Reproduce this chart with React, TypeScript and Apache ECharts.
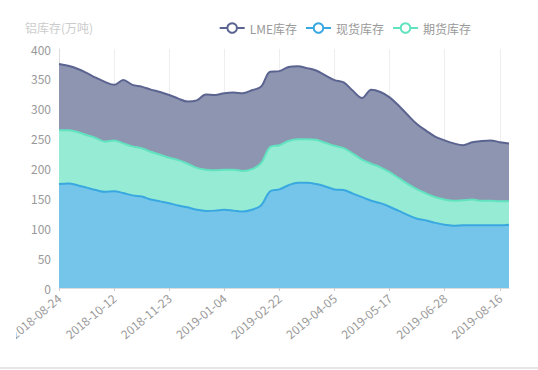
import React, { useEffect, useRef } from "react";
import * as echarts from "echarts";

const dates: string[] = [
  "2018-08-24", "2018-08-31", "2018-09-07", "2018-09-14", "2018-09-21", "2018-09-28",
  "2018-10-12", "2018-10-19", "2018-10-26", "2018-11-02", "2018-11-09", "2018-11-16",
  "2018-11-23", "2018-11-30", "2018-12-07", "2018-12-14", "2018-12-21", "2018-12-28",
  "2019-01-04", "2019-01-11", "2019-01-18", "2019-01-25", "2019-02-01", "2019-02-15",
  "2019-02-22", "2019-03-01", "2019-03-08", "2019-03-15", "2019-03-22", "2019-03-29",
  "2019-04-05", "2019-04-12", "2019-04-19", "2019-04-26", "2019-05-03", "2019-05-10",
  "2019-05-17", "2019-05-24", "2019-05-31", "2019-06-07", "2019-06-14", "2019-06-21",
  "2019-06-28", "2019-07-12", "2019-07-19", "2019-07-26", "2019-08-02", "2019-08-09",
  "2019-08-16", "2019-08-23",
];

// 现货库存 (bottom of stack)
const spotStock: number[] = [
  174, 175, 172, 168, 164, 161, 162, 159, 155, 153, 148, 145, 142, 138, 135, 131, 129,
  129.5, 131, 129.5, 128, 131, 138, 162, 165, 172, 176, 176, 174, 170, 165, 164, 158,
  152, 146, 142, 136, 129, 122, 116, 113, 109, 106, 104, 105, 105, 105, 105, 105, 106,
];

// 期货库存 (middle of stack)
const futuresStock: number[] = [
  90, 89, 89, 88, 87, 84, 85, 83, 82, 81, 80, 78, 76, 76, 73, 70, 69, 67.5, 67, 68.5,
  68, 68, 71, 74, 74, 74, 73, 73, 74, 73, 73, 70, 67, 63, 62, 60, 58, 55, 52, 49, 45,
  43, 42, 42, 42, 43, 41, 41, 40, 39,
];

// LME库存 (top of stack)
const lmeStock: number[] = [
  111, 108, 106, 104, 101, 100, 93, 106, 103, 103, 104, 105, 105, 103, 104, 113, 126,
  126, 128, 129, 130, 132, 128, 126, 124, 124, 122, 119, 116, 113, 110, 110, 105, 103,
  124, 126, 125, 121, 115, 109, 105, 101, 99, 96, 92, 96, 100, 101, 99, 97,
];

const legendNames: string[] = ["LME库存", "现货库存", "期货库存"];
const yAxisName = "铝库存(万吨)";

const FONT = "'Noto Sans CJK SC', 'Noto Sans', sans-serif";

export default function App() {
  const ref = useRef<HTMLDivElement>(null);

  useEffect(() => {
    if (!ref.current) return;
    const chart = echarts.init(ref.current, undefined, { renderer: "svg" });
    const mk = (name: string, data: number[], line: string, fill: string) => ({
      name,
      type: "line",
      stack: "total",
      data,
      smooth: 0.35,
      symbol: "emptyCircle",
      symbolSize: 8,
      showSymbol: false,
      lineStyle: { color: line, width: 2 },
      itemStyle: { color: line },
      areaStyle: { color: fill, opacity: 1 },
    });
    chart.setOption({
      animation: false,
      textStyle: { fontFamily: FONT },
      legend: {
        data: legendNames,
        top: 17,
        right: 62,
        itemWidth: 25,
        itemHeight: 12,
        itemGap: 8,
        textStyle: { color: "#999", fontSize: 12, fontFamily: FONT },
      },
      grid: {
        left: 43,
        right: 29,
        top: 49,
        bottom: 79,
        containLabel: false,
        outerBoundsMode: "none",
      },
      xAxis: {
        type: "category",
        data: dates,
        boundaryGap: false,
        axisLine: { lineStyle: { color: "#ddd" } },
        axisTick: { show: true, interval: 5, lineStyle: { color: "#ccc" }, length: 3 },
        axisLabel: {
          interval: 5,
          rotate: 40,
          color: "#999",
          fontSize: 12,
          fontFamily: FONT,
        },
        splitLine: { show: true, interval: 5, lineStyle: { color: "#eee" } },
      },
      yAxis: {
        type: "value",
        name: yAxisName,
        nameTextStyle: { color: "#ccc", fontSize: 12, fontFamily: FONT, padding: [0, 0, 2, 0] },
        nameGap: 14,
        min: 0,
        max: 400,
        interval: 50,
        axisLine: { show: true, lineStyle: { color: "#ddd" } },
        axisTick: { show: false },
        axisLabel: { color: "#999", fontSize: 12, fontFamily: FONT },
        splitLine: { show: false },
      },
      series: [
        mk("现货库存", spotStock, "#3aa8e0", "#75c5ea"),
        mk("期货库存", futuresStock, "#62e3c0", "#95ebd3"),
        mk("LME库存", lmeStock, "#5b6490", "#8e95b0"),
      ],
    });
    return () => chart.dispose();
  }, []);

  return (
    <div style={{ position: "absolute", left: 0, top: 0, width: 538, height: 370, background: "#fff", overflow: "hidden" }}>
      <div style={{ position: "absolute", left: 16, top: 0, width: 522, height: 367, overflow: "hidden" }}>
        <div ref={ref} style={{ width: 522, height: 367 }} />
      </div>
      <div style={{ position: "absolute", left: 0, top: 367, width: 538, height: 2, background: "#e6e6e6" }} />
    </div>
  );
}
